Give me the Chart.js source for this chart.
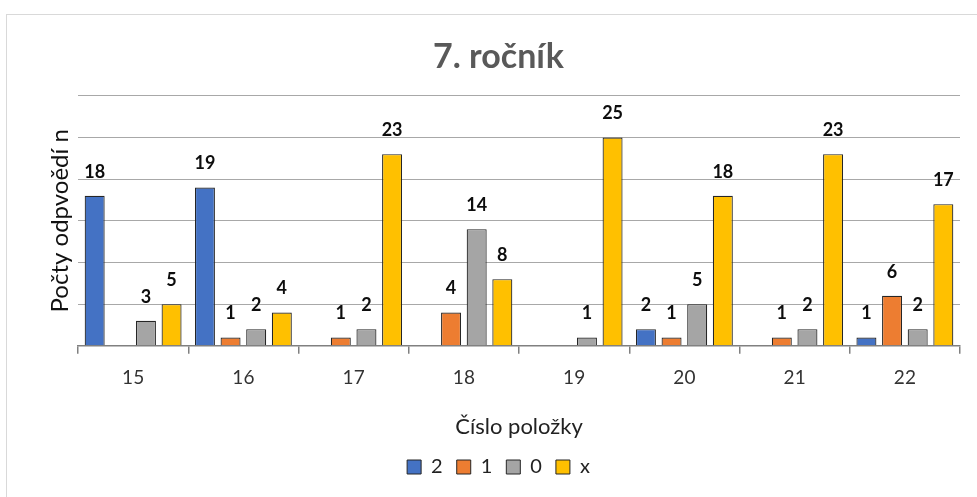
<!DOCTYPE html>
<html>
<head>
<meta charset="utf-8">
<script src="https://cdn.jsdelivr.net/npm/chart.js@4.4.0/dist/chart.umd.min.js"></script>
<style>
  html, body { margin: 0; padding: 0; background: #fff; }
  #wrap { position: relative; width: 977px; height: 497px; overflow: hidden; }
  #frame { position: absolute; left: 6px; top: 14px; width: 980px; height: 490px; border: 1px solid #d9d9d9; box-sizing: border-box; }
  canvas { position: absolute; left: 0; top: 0; }
</style>
</head>
<body>
<div id="wrap">
  <div id="frame"></div>
  <canvas id="chart" width="977" height="497"></canvas>
</div>
<script>
const categories = ["15", "16", "17", "18", "19", "20", "21", "22"];
const seriesNames = ["2", "1", "0", "x"];
const values2 = [18, 19, 0, 0, 0, 2, 0, 1];
const values1 = [0, 1, 1, 4, 0, 1, 1, 6];
const values0 = [3, 2, 2, 14, 1, 5, 2, 2];
const valuesX = [5, 4, 23, 8, 25, 18, 23, 17];
const colors = ["#4472C4", "#ED7D31", "#A5A5A5", "#FFC000"];

const FONT = "Lato, 'Open Sans', sans-serif";

// data labels above bars, zero values are not labelled
const barLabels = {
  id: "barLabels",
  afterDatasetsDraw(chart) {
    const ctx = chart.ctx;
    ctx.save();
    ctx.font = "bold 18px " + FONT;
    ctx.fillStyle = "#0d0d0d";
    ctx.textAlign = "center";
    ctx.textBaseline = "alphabetic";
    chart.data.datasets.forEach((ds, i) => {
      chart.getDatasetMeta(i).data.forEach((bar, j) => {
        const v = ds.data[j];
        if (!v) return;
        ctx.fillText(String(v), bar.x, bar.y - 18);
      });
    });
    ctx.restore();
  },
};

const allValues = [values2, values1, values0, valuesX];

new Chart(document.getElementById("chart"), {
  type: "bar",
  data: {
    labels: categories,
    datasets: seriesNames.map((name, i) => ({
      label: name,
      data: allValues[i],
      backgroundColor: colors[i],
      borderColor: "#262626",
      borderWidth: 1.2,
      borderSkipped: "bottom",
      barPercentage: 0.78,
      categoryPercentage: 0.93,
    })),
  },
  options: {
    responsive: false,
    animation: false,
    devicePixelRatio: 1,
    layout: { padding: { left: 20, right: 0, top: 0, bottom: 10 } },
    scales: {
      x: {
        grid: { drawOnChartArea: false, drawTicks: true, tickLength: 8, color: "#808080", lineWidth: 1.5, offset: true },
        border: { color: "#808080", width: 1.5 },
        ticks: { color: "#333", font: { family: FONT, size: 19 }, padding: 13 },
        title: { display: true, text: "Číslo položky", color: "#222", font: { family: FONT, size: 22 }, padding: { top: 11, bottom: 3 } },
      },
      y: {
        min: 0, max: 30,
        ticks: { display: false, stepSize: 5 },
        grid: { color: "#a8a8a8", drawTicks: false },
        border: { display: false },
        title: { display: true, text: "Počty odpvoědí n", color: "#111", font: { family: FONT, size: 24 }, padding: { top: 26, bottom: 0 } },
        afterFit(scale) { scale.width = 58; },
      },
      yRight: {
        position: "right",
        min: 0, max: 30,
        ticks: { display: false },
        grid: { display: false },
        border: { display: false },
        afterFit(scale) { scale.width = 17; },
      },
    },
    plugins: {
      title: {
        display: true,
        text: "7. ročník",
        color: "#595959",
        font: { family: FONT, size: 34, weight: "bold" },
        padding: { top: 37, bottom: 18 },
      },
      legend: {
        position: "bottom",
        labels: {
          color: "#222",
          font: { family: FONT, size: 20 },
          boxWidth: 14,
          boxHeight: 14,
          padding: 14,
          generateLabels(chart) {
            return chart.data.datasets.map((ds, i) => ({
              text: ds.label,
              fillStyle: ds.backgroundColor,
              strokeStyle: "#262626",
              lineWidth: 1,
              datasetIndex: i,
              fontColor: "#222",
            }));
          },
        },
      },
      tooltip: { enabled: false },
    },
  },
  plugins: [barLabels],
});
</script>
</body>
</html>
